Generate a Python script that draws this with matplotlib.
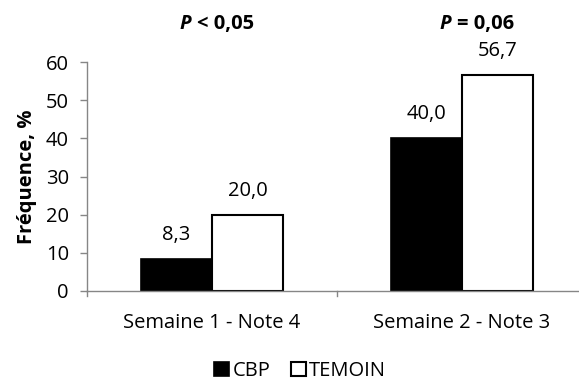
import numpy as np
import matplotlib.pyplot as plt

plt.rcParams['font.family'] = ['Open Sans', 'DejaVu Sans']

categories = ["Semaine 1 - Note 4", "Semaine 2 - Note 3"]
cbp = [8.3, 40.0]
temoin = [20.0, 56.7]
p_labels = ["< 0,05", "= 0,06"]
yticks = [0, 10, 20, 30, 40, 50, 60]

fs = 14.5
fig = plt.figure(figsize=(5.79, 3.81), dpi=100)
# axis area runs past the right edge of the picture, as in the original
ax = fig.add_axes([87/579, 90/381, 500/579, 229/381])

x = np.arange(len(categories))
w = 0.285
grey = "#868686"

b1 = ax.bar(x - w/2, cbp, w, color="black", edgecolor="black", linewidth=1.2, label="CBP")
b2 = ax.bar(x + w/2, temoin, w, color="white", edgecolor="black", linewidth=1.5, label="TEMOIN")

for rects, vals in [(b1, cbp), (b2, temoin)]:
    for r, v in zip(rects, vals):
        ax.annotate(f"{v:.1f}".replace(".", ","), (r.get_x() + r.get_width()/2, v),
                    xytext=(0, 10), textcoords="offset points",
                    ha="center", va="bottom", fontsize=fs)

ax.set_xlim(-0.5, len(categories) - 0.5)
ax.set_ylim(0, 60)
ax.set_yticks(yticks)
ax.tick_params(axis="y", labelsize=fs, color=grey, length=5, width=1, pad=8)
ax.set_xticks(x)
ax.set_xticklabels(categories, fontsize=fs)
ax.tick_params(axis="x", length=0, pad=16)
for b in np.arange(-0.5, len(categories)):
    ax.plot([b, b], [0, -1.3], color=grey, lw=1, clip_on=False)

for s in ["top", "right"]:
    ax.spines[s].set_visible(False)
for s in ["left", "bottom"]:
    ax.spines[s].set_color(grey)
    ax.spines[s].set_linewidth(1)

ax.set_ylabel("Fréquence, %", fontsize=fs, fontweight="bold", labelpad=6)

# p-values above each group
for xc, lab in zip([197/579, 457/579], p_labels):
    fig.text(xc, 1 - 24/381, "P ", ha="right", va="center", fontsize=fs,
             fontweight="bold", fontstyle="italic")
    fig.text(xc, 1 - 24/381, lab, ha="left", va="center", fontsize=fs, fontweight="bold")

fig.legend(handles=[b1, b2], loc="center", bbox_to_anchor=(300/579, 1 - 371/381),
           ncol=2, frameon=False, fontsize=fs, handlelength=0.75, handleheight=0.75,
           handletextpad=0.15, columnspacing=1.0, borderpad=0)

plt.savefig("out.png", dpi=100)
